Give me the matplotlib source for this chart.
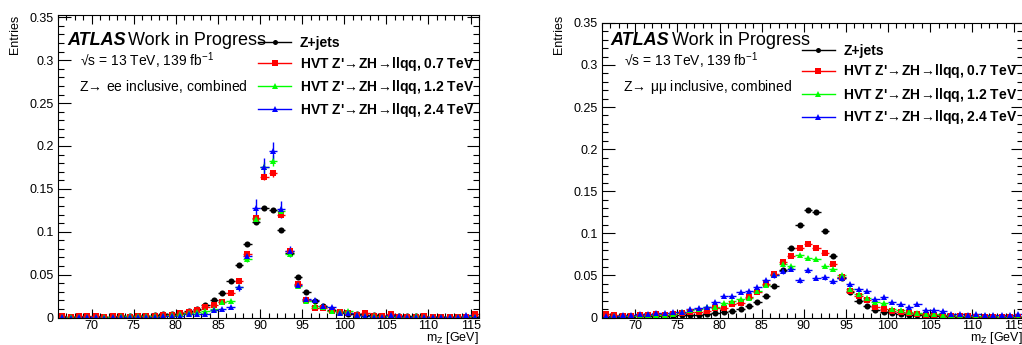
import numpy as np
import matplotlib
matplotlib.use("Agg")
import matplotlib.pyplot as plt
from matplotlib.lines import Line2D
from matplotlib.ticker import MultipleLocator, FuncFormatter

plt.rcParams['font.family'] = ['Liberation Sans', 'DejaVu Sans']
plt.rcParams['mathtext.fontset'] = 'dejavusans'
plt.rcParams['mathtext.default'] = 'regular'

# bin centres, 1 GeV bins from 66 to 116
mz = np.arange(66.5, 116.0, 1.0)

# Z -> ee channel
ee_zjets = [0.001, 0.001, 0.001, 0.001, 0.001, 0.001, 0.001, 0.0015, 0.0015, 0.002,
            0.002, 0.003, 0.0035, 0.004, 0.005, 0.007, 0.0095, 0.015, 0.020, 0.029,
            0.042, 0.061, 0.086, 0.111, 0.128, 0.125, 0.102, 0.075, 0.047, 0.030,
            0.0195, 0.013, 0.0085, 0.006, 0.0045, 0.0035, 0.003, 0.0025, 0.002, 0.002,
            0.0015, 0.0015, 0.0015, 0.001, 0.001, 0.001, 0.001, 0.001, 0.001, 0.001]
ee_07 = [0.002, 0.001, 0.002, 0.002, 0.002, 0.001, 0.002, 0.002, 0.001, 0.002,
         0.002, 0.002, 0.003, 0.003, 0.005, 0.0065, 0.009, 0.012, 0.014, 0.018,
         0.029, 0.043, 0.074, 0.116, 0.164, 0.168, 0.120, 0.077, 0.039, 0.020,
         0.011, 0.011, 0.007, 0.006, 0.005, 0.003, 0.005, 0.002, 0.002, 0.004,
         0.001, 0.001, 0.001, 0.002, 0.001, 0.001, 0.001, 0.001, 0.001, 0.004]
ee_12 = [0.001, 0.001, 0.001, 0.001, 0.001, 0.001, 0.001, 0.002, 0.002, 0.002,
         0.002, 0.002, 0.002, 0.003, 0.004, 0.005, 0.006, 0.0075, 0.010, 0.018,
         0.0195, 0.036, 0.068, 0.115, 0.175, 0.183, 0.124, 0.074, 0.037, 0.019,
         0.013, 0.012, 0.007, 0.006, 0.007, 0.003, 0.002, 0.002, 0.001, 0.002,
         0.001, 0.001, 0.002, 0.001, 0.001, 0.001, 0.001, 0.001, 0.002, 0.001]
ee_24 = [0.001, 0.000, 0.001, 0.001, 0.001, 0.000, 0.001, 0.001, 0.001, 0.001,
         0.001, 0.001, 0.002, 0.002, 0.002, 0.004, 0.004, 0.004, 0.009, 0.0095,
         0.0125, 0.035, 0.072, 0.128, 0.176, 0.194, 0.126, 0.077, 0.038, 0.021,
         0.020, 0.013, 0.012, 0.005, 0.005, 0.003, 0.002, 0.001, 0.001, 0.003,
         0.002, 0.001, 0.001, 0.001, 0.001, 0.001, 0.001, 0.001, 0.003, 0.001]

# Z -> mumu channel
mm_zjets = [0.001, 0.001, 0.001, 0.001, 0.0015, 0.0015, 0.002, 0.002, 0.002, 0.0025,
            0.003, 0.003, 0.004, 0.0055, 0.0065, 0.008, 0.010, 0.0135, 0.018, 0.026,
            0.038, 0.056, 0.082, 0.110, 0.128, 0.125, 0.103, 0.073, 0.047, 0.030,
            0.0195, 0.0133, 0.009, 0.006, 0.005, 0.004, 0.003, 0.0025, 0.002, 0.002,
            0.0015, 0.0015, 0.001, 0.001, 0.001, 0.001, 0.001, 0.001, 0.001, 0.001]
mm_07 = [0.004, 0.003, 0.002, 0.002, 0.003, 0.003, 0.004, 0.003, 0.004, 0.005,
         0.007, 0.007, 0.0075, 0.011, 0.011, 0.016, 0.017, 0.024, 0.030, 0.040,
         0.052, 0.066, 0.073, 0.083, 0.087, 0.083, 0.077, 0.064, 0.0485, 0.032,
         0.026, 0.021, 0.013, 0.010, 0.0075, 0.006, 0.005, 0.004, 0.003, 0.003,
         0.002, 0.002, 0.002, 0.002, 0.001, 0.001, 0.001, 0.001, 0.001, 0.001]
mm_12 = [0.001, 0.002, 0.002, 0.002, 0.002, 0.003, 0.003, 0.003, 0.004, 0.0066,
         0.009, 0.0097, 0.012, 0.0125, 0.017, 0.0195, 0.022, 0.023, 0.031, 0.039,
         0.050, 0.063, 0.061, 0.074, 0.071, 0.069, 0.061, 0.058, 0.051, 0.034,
         0.028, 0.023, 0.018, 0.017, 0.010, 0.009, 0.0066, 0.005, 0.004, 0.004,
         0.003, 0.003, 0.002, 0.002, 0.002, 0.002, 0.002, 0.001, 0.001, 0.001]
mm_24 = [0.002, 0.002, 0.003, 0.003, 0.004, 0.004, 0.005, 0.005, 0.006, 0.007,
         0.010, 0.011, 0.012, 0.018, 0.026, 0.025, 0.030, 0.032, 0.036, 0.044,
         0.050, 0.055, 0.058, 0.044, 0.056, 0.047, 0.048, 0.043, 0.047, 0.040,
         0.034, 0.031, 0.022, 0.024, 0.018, 0.016, 0.013, 0.0155, 0.009, 0.009,
         0.008, 0.004, 0.004, 0.003, 0.004, 0.003, 0.003, 0.003, 0.003, 0.004]

# visible stat. errors (only bins where the bar sticks out of the marker)
ee_err_07 = {89.5: 0.003, 90.5: 0.004, 91.5: 0.004, 92.5: 0.003}
ee_err_12 = {88.5: 0.003, 89.5: 0.005, 90.5: 0.006, 91.5: 0.006, 92.5: 0.005}
ee_err_24 = {87.5: 0.004, 88.5: 0.006, 89.5: 0.010, 90.5: 0.010, 91.5: 0.011, 92.5: 0.010, 93.5: 0.006}
mm_err_07 = {}
mm_err_12 = {89.5: 0.002, 90.5: 0.002, 91.5: 0.002}
mm_err_24 = {86.5: 0.003, 87.5: 0.003, 88.5: 0.003, 89.5: 0.003, 90.5: 0.003,
             91.5: 0.003, 92.5: 0.003, 93.5: 0.003, 94.5: 0.003}

arrow = r'$\!\rightarrow\!$'
labels = ['Z+jets', "HVT Z'" + arrow + 'ZH' + arrow + 'llqq, 0.7 TeV',
          "HVT Z'" + arrow + 'ZH' + arrow + 'llqq, 1.2 TeV',
          "HVT Z'" + arrow + 'ZH' + arrow + 'llqq, 2.4 TeV']
colors = ['black', '#ff0000', '#00ff00', '#0000ff']
markers = ['o', 's', '^', '^']
msizes = [4.4, 4.7, 4.8, 4.8]

W, H = 1022, 345
fig = plt.figure(figsize=(W / 100, H / 100), dpi=100)


def err_array(d):
    return [d.get(x, 0.0) for x in mz]


def panel(x0, x1, ytop, ybot, ymax, series, errs, chan):
    ax = fig.add_axes([x0 / W, 1 - ybot / H, (x1 - x0) / W, (ybot - ytop) / H])
    for vals, e, c, m, s in zip(series, errs, colors, markers, msizes):
        ax.errorbar(mz, vals, xerr=0.5, yerr=err_array(e), fmt=m, color=c, ms=s,
                    mew=0, elinewidth=1, capsize=0, ls='none')
    ax.set_xlim(66, 116)
    ax.set_ylim(0, ymax)
    ax.xaxis.set_major_locator(MultipleLocator(5))
    ax.xaxis.set_minor_locator(MultipleLocator(1))
    ax.yaxis.set_major_locator(MultipleLocator(0.05))
    ax.yaxis.set_minor_locator(MultipleLocator(0.01))
    ax.yaxis.set_major_formatter(FuncFormatter(lambda v, p: '%g' % round(v, 3)))
    ax.xaxis.set_major_formatter(FuncFormatter(lambda v, p: '' if v < 70 else '%g' % v))
    ax.tick_params(which='both', direction='in', top=True, right=True, width=0.8,
                   labelsize=9)
    ax.tick_params(axis='x', which='major', length=6.5, pad=1.5)
    ax.tick_params(axis='x', which='minor', length=3.3)
    ax.tick_params(axis='y', which='major', length=9, pad=3)
    ax.tick_params(axis='y', which='minor', length=4.5)
    for sp in ax.spines.values():
        sp.set_linewidth(0.8)

    handles = [Line2D([], [], color=c, lw=1, marker=m, ms=s - 0.8, mew=0)
               for c, m, s in zip(colors, markers, msizes)]
    ax.legend(handles, labels, loc='upper left', frameon=False,
              bbox_to_anchor=(200 / (x1 - x0), 1 - 21 / (ybot - ytop)),
              borderpad=0, borderaxespad=0, handlelength=2.4, handletextpad=0.6,
              labelspacing=0.36, prop={'weight': 'bold', 'size': 10})

    fx = lambda p: p / W
    fy = lambda p: 1 - p / H
    fig.text(fx(x0 + 9), fy(45), 'ATLAS', fontsize=13, fontweight='bold',
             fontstyle='italic', va='baseline')
    fig.text(fx(x0 + 70), fy(45), 'Work in Progress', fontsize=13, va='baseline')
    fig.text(fx(x0 + 22), fy(66), '\u221as = 13 TeV, 139 fb$^{-1}$', fontsize=10,
             va='baseline')
    fig.text(fx(x0 + 21), fy(91), chan, fontsize=10, va='baseline')
    fig.text(fx(x0 - 43), fy(15), 'Entries', fontsize=9, rotation=90,
             ha='center', va='top')
    fig.text(fx(x1), fy(341), 'm$_Z$ [GeV]', fontsize=9, ha='right', va='baseline')
    return ax


panel(58, 479, 15, 317.5, 0.3527, [ee_zjets, ee_07, ee_12, ee_24],
      [{}, ee_err_07, ee_err_12, ee_err_24], 'Z' + arrow + ' ee inclusive, combined')
panel(601.7, 1022.7, 22.5, 317.5, 0.3504, [mm_zjets, mm_07, mm_12, mm_24],
      [{}, mm_err_07, mm_err_12, mm_err_24],
      'Z' + arrow + ' \u03bc\u03bc inclusive, combined')

fig.savefig('out.png', dpi=100)
